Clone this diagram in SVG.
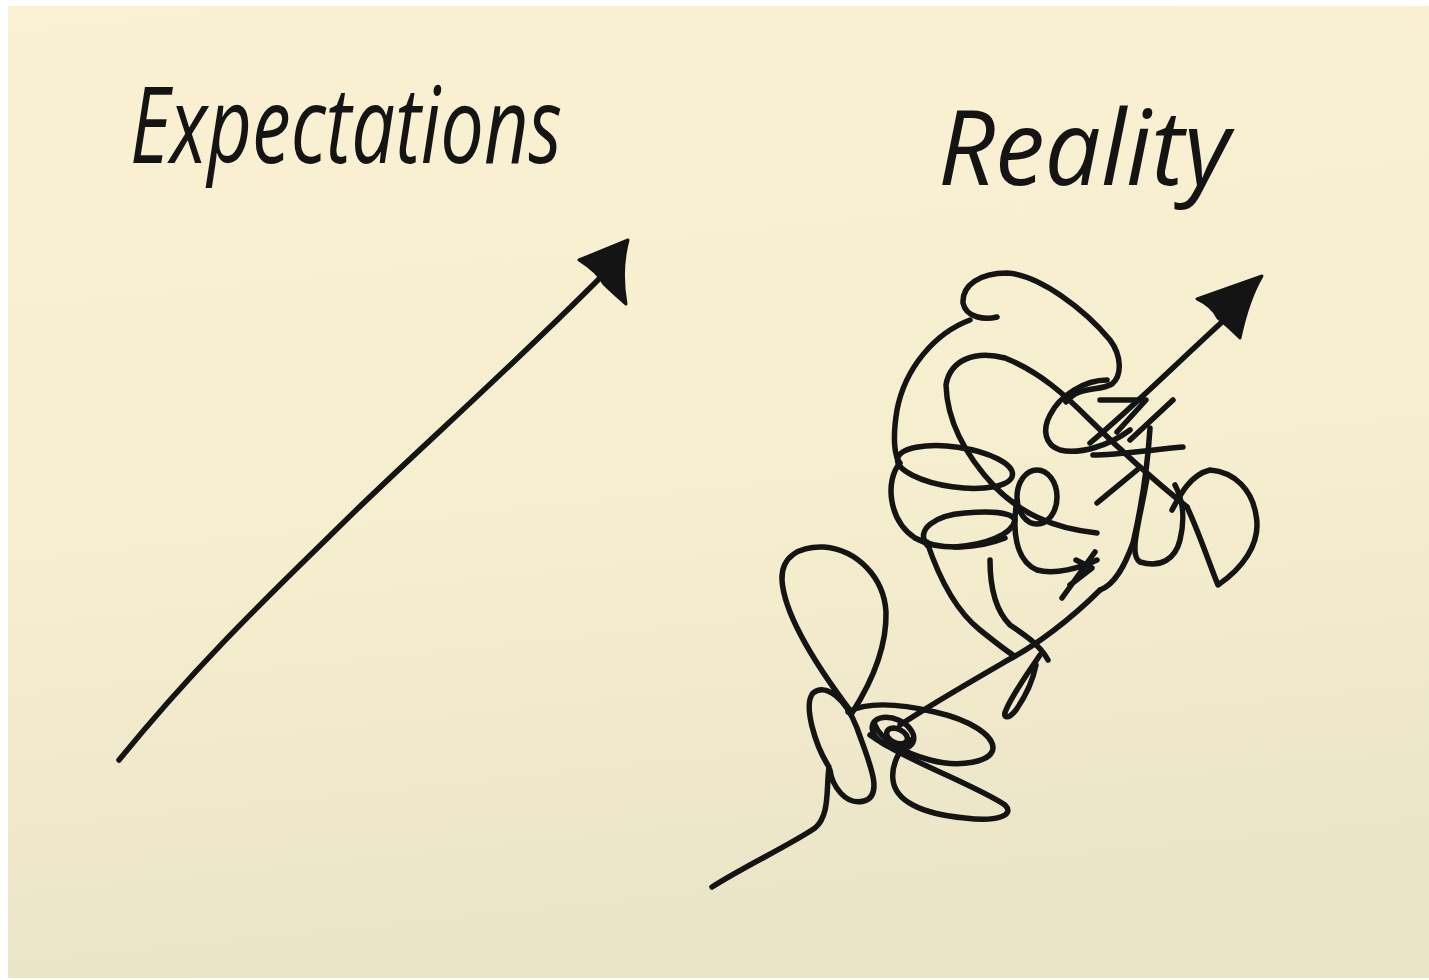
<svg xmlns="http://www.w3.org/2000/svg" width="1429" height="980" viewBox="0 0 1429 980">
<defs>
<linearGradient id="paper" x1="0" y1="0" x2="0.15" y2="1">
<stop offset="0" stop-color="#faf1d3"/>
<stop offset="0.55" stop-color="#f5eecf"/>
<stop offset="1" stop-color="#ebe5c7"/>
</linearGradient>
<style>
.ink{fill:none;stroke:#141414;stroke-width:5.5;stroke-linecap:round;stroke-linejoin:round}
.head{fill:#141414;stroke:#141414;stroke-width:3;stroke-linejoin:round}
.hand{font-family:"Open Sans","Liberation Sans",sans-serif;font-style:italic;font-weight:400;fill:#141414}
</style>
</defs>
<rect x="0" y="0" width="1429" height="980" fill="#ffffff"/>
<rect x="8" y="6" width="1421" height="972" fill="url(#paper)"/>

<g id="label-expectations">
<text class="hand" x="130" y="163" font-size="106" textLength="432" lengthAdjust="spacingAndGlyphs">Expectations</text>
</g>
<g id="label-reality">
<text class="hand" x="938" y="185" font-size="104" textLength="292" lengthAdjust="spacingAndGlyphs">Reality</text>
</g>

<g id="expectation-arrow">
<path class="ink" stroke-width="6.5" d="M119,760 C200,660 280,585 345,521 S500,378 600,278"/>
<path class="head" d="M628,240 L579,260 Q598,272 604,284 Q612,292 626,304 Q620,270 628,240 Z"/>
</g>

<g id="reality-scribble">
<!-- tail and lower-left cluster -->
<path class="ink" d="M712,887 C745,866 790,845 815,828 C830,815 826,790 829,767 C815,745 803,705 813,693 C825,683 845,697 857,728 C868,760 885,795 864,801 C845,806 832,785 830,770"/>
<path class="ink" d="M852,713 C818,668 784,615 782,580 C781,556 800,546 824,547 C858,550 884,578 886,612 C887,650 868,688 852,713"/>
<path class="ink" d="M848,712 C870,700 905,705 935,712 C970,720 993,735 993,748 C992,762 960,768 930,760 C900,752 880,738 875,725"/>
<path class="ink" d="M870,735 C905,760 975,785 1005,805 C1015,815 998,822 965,818 C920,814 895,800 893,780 C891,765 900,748 910,740"/>
<ellipse class="ink" cx="893" cy="733" rx="22" ry="14" transform="rotate(25 893 733)"/>
<ellipse class="ink" cx="897" cy="736" rx="11" ry="7" transform="rotate(25 897 736)"/>
<path class="ink" d="M900,725 C930,705 970,682 1008,660 C1035,646 1070,620 1100,590"/>
<path class="ink" d="M1040,655 C1030,670 1012,695 1006,710 C1002,718 1008,720 1016,710 C1025,697 1033,680 1036,665"/>
<path class="ink" d="M927,542 C938,575 955,610 980,630 C995,642 1005,650 1013,655"/>
<path class="ink" d="M990,560 C990,585 995,610 1010,625 C1025,635 1040,645 1048,660"/>

<!-- upper cluster -->
<path class="ink" d="M997,317 C985,320 966,318 963,303 C962,285 980,273 1007,273 C1040,275 1085,310 1110,340 C1122,356 1122,376 1112,384 C1098,392 1080,385 1066,402"/>
<path class="ink" d="M970,320 C935,333 905,368 897,410 C892,440 895,458 900,463 C885,480 888,520 915,538 C940,552 980,548 1005,538"/>
<ellipse class="ink" cx="955" cy="467" rx="58" ry="20" transform="rotate(8 955 467)"/>
<path class="ink" d="M927,545 C915,530 935,515 965,513 C990,511 1012,512 1015,520 C1012,535 985,545 955,547"/>
<ellipse class="ink" cx="1037" cy="497" rx="20" ry="27"/>
<path class="ink" d="M1017,500 C1012,530 1015,560 1037,570 C1055,575 1080,568 1097,560"/>
<path class="ink" d="M1187,507 C1160,485 1120,450 1090,420 C1065,395 1040,372 1005,358 C975,350 950,360 946,385 C947,420 965,455 995,487 C1020,512 1050,528 1097,533"/>
<path class="ink" d="M1107,380 C1085,380 1060,395 1050,415 C1042,430 1045,445 1060,450 C1080,455 1110,445 1130,430"/>
<path class="ink" d="M1150,428 C1148,460 1143,500 1133,543 C1125,565 1115,585 1100,590"/>
<path class="ink" d="M1147,478 C1140,520 1128,555 1140,562 C1160,568 1175,560 1180,540 C1185,520 1183,500 1175,485"/>
<path class="ink" d="M1097,503 C1110,492 1125,480 1137,470"/>
<path class="ink" d="M1187,507 C1198,530 1208,560 1218,585 C1240,570 1262,545 1256,515 C1252,490 1235,472 1210,470 C1190,475 1180,495 1172,510"/>
<path class="ink" d="M1173,400 L1130,440"/>
<path class="ink" d="M1183,447 C1150,450 1115,455 1093,455"/>
<path class="ink" d="M1100,400 L1146,400 L1117,432"/>
<path class="ink" d="M1062,598 L1095,552 M1076,560 L1092,568 L1070,585"/>
<!-- arrow shaft and head -->
<path class="ink" d="M1090,443 C1130,410 1175,365 1222,322"/>
<path class="head" d="M1262,276 L1197,299 Q1212,306 1218,318 Q1228,326 1240,338 Q1248,300 1262,276 Z"/>
</g>
</svg>
